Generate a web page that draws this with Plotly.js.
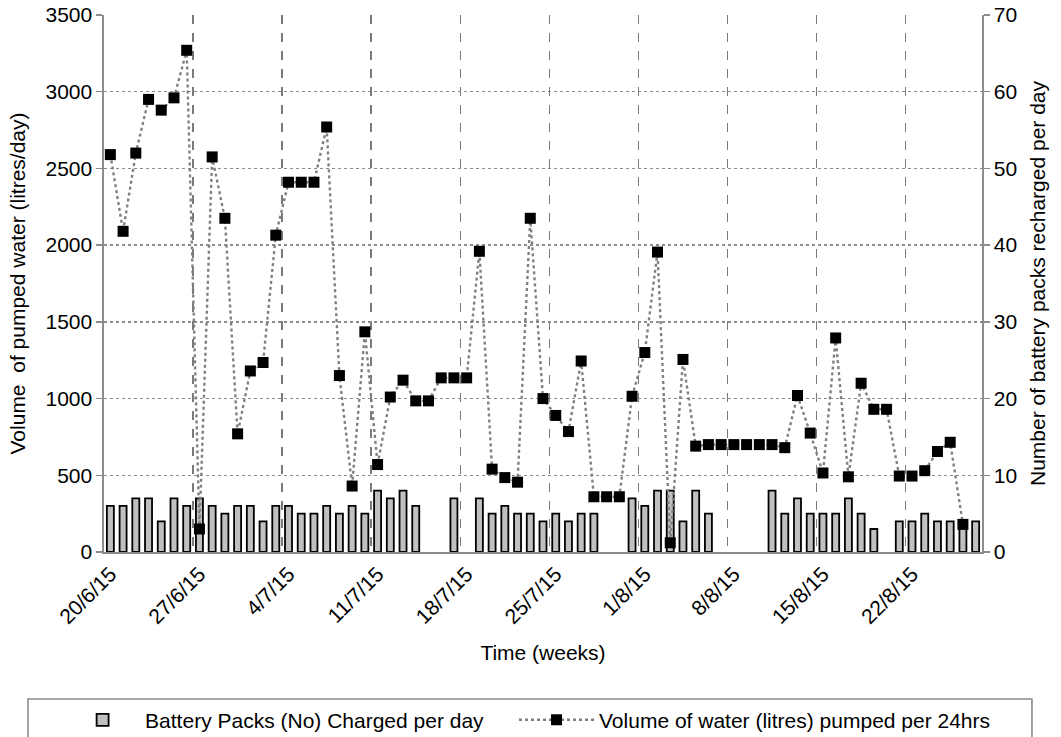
<!DOCTYPE html>
<html>
<head>
<meta charset="utf-8">
<script src="https://cdn.plot.ly/plotly-3.0.1.min.js"></script>
<style>html,body{margin:0;padding:0;background:#fff;}#chart{width:1061px;height:737px;}</style>
</head>
<body>
<div id="chart"></div>
<script>
// Daily dates (20/6/15 .. 27/8/15)
const dates = [
  '2015-06-20','2015-06-21','2015-06-22','2015-06-23','2015-06-24','2015-06-25','2015-06-26',
  '2015-06-27','2015-06-28','2015-06-29','2015-06-30','2015-07-01','2015-07-02','2015-07-03',
  '2015-07-04','2015-07-05','2015-07-06','2015-07-07','2015-07-08','2015-07-09','2015-07-10',
  '2015-07-11','2015-07-12','2015-07-13','2015-07-14','2015-07-15','2015-07-16','2015-07-17',
  '2015-07-18','2015-07-19','2015-07-20','2015-07-21','2015-07-22','2015-07-23','2015-07-24',
  '2015-07-25','2015-07-26','2015-07-27','2015-07-28','2015-07-29','2015-07-30','2015-07-31',
  '2015-08-01','2015-08-02','2015-08-03','2015-08-04','2015-08-05','2015-08-06','2015-08-07',
  '2015-08-08','2015-08-09','2015-08-10','2015-08-11','2015-08-12','2015-08-13','2015-08-14',
  '2015-08-15','2015-08-16','2015-08-17','2015-08-18','2015-08-19','2015-08-20','2015-08-21',
  '2015-08-22','2015-08-23','2015-08-24','2015-08-25','2015-08-26','2015-08-27'
];

// Battery packs charged per day (right axis)
const batteryPacks = [
  6,6,7,7,4,7,6,
  7,6,5,6,6,4,6,
  6,5,5,6,5,6,5,
  8,7,8,6,null,null,7,
  null,7,5,6,5,5,4,
  5,4,5,5,null,null,7,
  6,8,8,4,8,5,null,
  null,null,null,8,5,7,5,
  5,5,7,5,3,null,4,
  4,5,4,4,4,4
];

// Volume of water pumped per 24hrs (left axis)
const waterVolume = [
  2590,2090,2600,2950,2880,2960,3270,
  150,2575,2175,770,1180,1235,2065,
  2410,2410,2410,2770,1150,430,1435,
  570,1010,1120,985,985,1135,1135,
  1135,1960,540,485,455,2175,1000,
  890,785,1245,360,360,360,1015,
  1300,1955,60,1255,690,700,700,
  700,700,700,700,680,1020,775,
  515,1395,490,1100,930,930,495,
  495,530,655,715,180,null
];

const tickDates = ['2015-06-20','2015-06-27','2015-07-04','2015-07-11','2015-07-18',
  '2015-07-25','2015-08-01','2015-08-08','2015-08-15','2015-08-22'];
const tickLabels = ['20/6/15','27/6/15','4/7/15','11/7/15','18/7/15',
  '25/7/15','1/8/15','8/8/15','15/8/15','22/8/15'];

const FONT = 'Liberation Sans, Arial, sans-serif';
const FS = 21;
const GRID = '#8c8c8c';

const traces = [
  {
    type: 'bar', x: dates, y: batteryPacks, yaxis: 'y',
    name: 'Battery Packs (No) Charged per day',
    marker: {color: '#c0c0c0', line: {color: '#000', width: 1.8}},
    legend: 'legend', hoverinfo: 'x+y'
  },
  {
    type: 'scatter', mode: 'lines+markers', x: dates, y: waterVolume, yaxis: 'y2',
    name: 'Volume of water (litres) pumped per 24hrs',
    line: {color: '#808080', width: 2.4, dash: 'dot'},
    marker: {symbol: 'square', size: 11, color: '#000'},
    legend: 'legend2'
  }
];

const layout = {
  width: 1061, height: 737,
  margin: {l: 104, r: 79, t: 15, b: 185, autoexpand: false},
  paper_bgcolor: '#fff', plot_bgcolor: '#fff',
  font: {family: FONT, size: FS, color: '#000'},
  bargap: 0.45,
  showlegend: true,
  xaxis: {
    type: 'date',
    range: ['2015-06-19 12:00', '2015-08-27 12:00'],
    tickmode: 'array', tickvals: tickDates, ticktext: tickLabels,
    tickangle: -45, showgrid: false, zeroline: false,
    showline: true, linecolor: GRID, linewidth: 1.6,
    ticks: '', tickfont: {family: FONT, size: FS},
    minor: {tick0: '2015-06-26 12:00', dtick: 604800000, showgrid: true,
            gridcolor: '#7a7a7a', griddash: 'dash', gridwidth: 1.5, ticks: ''},
    title: {text: 'Time (weeks)', font: {family: FONT, size: FS}, standoff: 18},
    automargin: false
  },
  yaxis: {
    side: 'right', range: [0, 70], dtick: 10, tick0: 0,
    showgrid: false, zeroline: false,
    showline: true, linecolor: GRID, linewidth: 1.6,
    ticks: 'outside', ticklen: 6, tickcolor: GRID, tickwidth: 1.4,
    tickfont: {family: FONT, size: FS},
    title: {text: 'Number of battery packs recharged per day', font: {family: FONT, size: FS}, standoff: 14},
    automargin: false
  },
  yaxis2: {
    side: 'left', overlaying: 'y', range: [0, 3500], dtick: 500, tick0: 0,
    showgrid: true, gridcolor: GRID, griddash: 'dot', gridwidth: 1.4,
    zeroline: false,
    showline: true, linecolor: GRID, linewidth: 1.6,
    ticks: 'outside', ticklen: 6, tickcolor: GRID, tickwidth: 1.4,
    tickfont: {family: FONT, size: FS},
    title: {text: 'Volume  of pumped water (litres/day)', font: {family: FONT, size: FS}, standoff: 14},
    automargin: false
  },
  legend: {
    orientation: 'h', x: -0.05, xanchor: 'left', y: -0.275, yanchor: 'top',
    bgcolor: 'rgba(0,0,0,0)', borderwidth: 0,
    font: {family: FONT, size: FS}, itemwidth: 75
  },
  legend2: {
    orientation: 'h', x: 0.467, xanchor: 'left', y: -0.275, yanchor: 'top',
    bgcolor: 'rgba(0,0,0,0)', borderwidth: 0,
    font: {family: FONT, size: FS}, itemwidth: 75
  },
  shapes: [{
    type: 'rect', xref: 'paper', yref: 'paper',
    x0: -0.0866, x1: 1.0569, y0: -0.36, y1: -0.2737,
    line: {color: GRID, width: 1.6}, fillcolor: 'rgba(0,0,0,0)', layer: 'above'
  }]
};

Plotly.newPlot('chart', traces, layout, {displayModeBar: false, staticPlot: true});
</script>
</body>
</html>
